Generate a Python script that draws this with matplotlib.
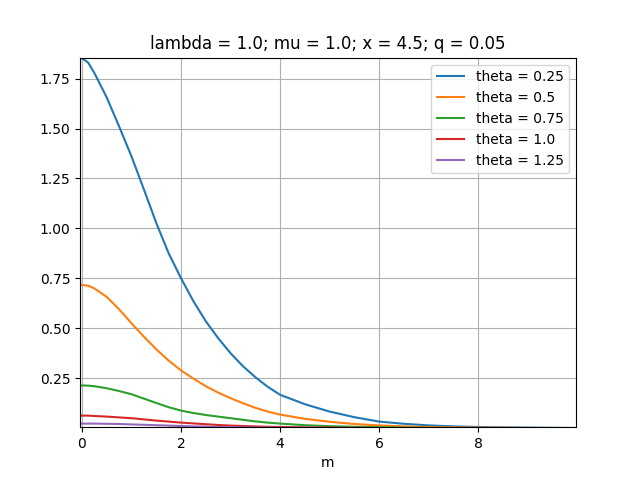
import matplotlib
matplotlib.use("Agg")
import matplotlib.pyplot as plt

# values
m = [0, 0.125, 0.25, 0.5, 0.75, 1.0, 1.25, 1.5, 1.75, 2.0, 2.25, 2.5, 2.75, 3.0, 3.25, 3.5, 3.75, 4.0,
     4.5, 5.0, 5.5, 6.0, 6.5, 7.0, 7.5, 8.0, 8.5, 9.0, 9.5, 10.0]

theta_025 = [1.852, 1.830, 1.778, 1.655, 1.51, 1.36, 1.195, 1.027, 0.875, 0.75, 0.635, 0.535, 0.45, 0.375, 0.31, 0.255, 0.207, 0.167,
             0.12, 0.083, 0.055, 0.033, 0.022, 0.014, 0.009, 0.006, 0.004, 0.003, 0.002, 0.001]
theta_05 = [0.717, 0.713, 0.70, 0.657, 0.595, 0.525, 0.458, 0.395, 0.338, 0.289, 0.248, 0.21, 0.178, 0.15, 0.125, 0.102, 0.083, 0.068,
            0.047, 0.032, 0.021, 0.014, 0.009, 0.006, 0.004, 0.003, 0.002, 0.001, 0.001, 0.0]
theta_075 = [0.214, 0.213, 0.21, 0.20, 0.186, 0.17, 0.148, 0.126, 0.105, 0.088, 0.076, 0.066, 0.058, 0.05, 0.042, 0.034, 0.028, 0.023,
             0.015, 0.01, 0.007, 0.005, 0.003, 0.002, 0.001, 0.001, 0.0, 0.0, 0.0, 0.0]
theta_10 = [0.063, 0.063, 0.061, 0.058, 0.054, 0.05, 0.044, 0.038, 0.033, 0.028, 0.024, 0.02, 0.016, 0.013, 0.011, 0.009, 0.007, 0.006,
            0.004, 0.003, 0.002, 0.001, 0.001, 0.0, 0.0, 0.0, 0.0, 0.0, 0.0, 0.0]
theta_125 = [0.023, 0.023, 0.023, 0.022, 0.021, 0.019, 0.017, 0.015, 0.013, 0.011, 0.009, 0.008, 0.006, 0.005, 0.004, 0.003, 0.003, 0.002,
             0.002, 0.001, 0.001, 0.0, 0.0, 0.0, 0.0, 0.0, 0.0, 0.0, 0.0, 0.0]

series = [("theta = 0.25", theta_025), ("theta = 0.5", theta_05), ("theta = 0.75", theta_075),
          ("theta = 1.0", theta_10), ("theta = 1.25", theta_125)]

fig, ax = plt.subplots(figsize=(6.4, 4.8), dpi=100)
for label, vals in series:
    ax.plot(m, vals, label=label)

ax.set_xlim(-0.04, 9.97)
ax.set_ylim(0.005, 1.855)
ax.set_yticks([0.25, 0.5, 0.75, 1.0, 1.25, 1.5, 1.75])
ax.set_xlabel("m")
ax.set_title("lambda = 1.0; mu = 1.0; x = 4.5; q = 0.05")
ax.grid(True)
ax.legend(loc="upper right")

fig.savefig("out.png")
